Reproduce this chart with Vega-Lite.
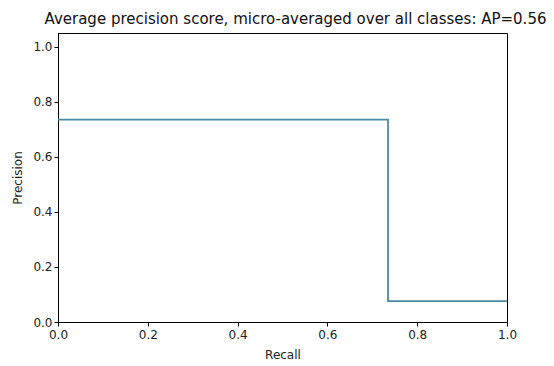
{
  "$schema": "https://vega.github.io/schema/vega-lite/v6.json",
  "width": 449,
  "height": 289,
  "autosize": {"type": "none"},
  "padding": {"left": 58, "top": 33, "right": 47, "bottom": 44},
  "background": "white",
  "config": {
    "font": "DejaVu Sans",
    "view": {"stroke": "black", "strokeWidth": 1},
    "axis": {
      "grid": false,
      "domainColor": "black",
      "tickColor": "black",
      "tickSize": 4,
      "labelColor": "#222",
      "labelFontSize": 12,
      "labelFlush": false,
      "titleFontSize": 12,
      "titleFontWeight": "normal",
      "titleColor": "#222"
    }
  },
  "title": {
    "text": "Average precision score, micro-averaged over all classes: AP=0.56",
    "fontSize": 15,
    "fontWeight": "normal",
    "color": "#111",
    "font": "DejaVu Sans",
    "anchor": "middle",
    "dx": 13,
    "offset": 6
  },
  "data": {
    "values": [
      {"recall": 0.0, "precision": 0.735},
      {"recall": 0.735, "precision": 0.076},
      {"recall": 1.0, "precision": 0.076}
    ]
  },
  "mark": {"type": "line", "interpolate": "step-after", "color": "#4a8aa3", "strokeWidth": 1.8},
  "encoding": {
    "x": {
      "field": "recall", "type": "quantitative", "title": "Recall",
      "scale": {"domain": [0, 1], "nice": false, "zero": false},
      "axis": {"values": [0, 0.2, 0.4, 0.6, 0.8, 1.0], "format": ".1f", "titlePadding": 9, "labelPadding": 3}
    },
    "y": {
      "field": "precision", "type": "quantitative", "title": "Precision",
      "scale": {"domain": [0, 1.05], "nice": false, "zero": false},
      "axis": {"values": [0, 0.2, 0.4, 0.6, 0.8, 1.0], "format": ".1f", "titlePadding": 8}
    }
  }
}
